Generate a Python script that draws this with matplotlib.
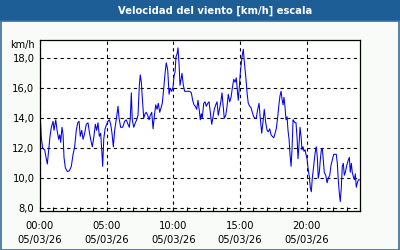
import matplotlib.pyplot as plt
from matplotlib.patches import Rectangle
from matplotlib.ticker import MultipleLocator, FuncFormatter

# hours since 00:00 on 05/03/26 and wind speed in km/h
hours = [0.05, 0.10, 0.20, 0.35, 0.45, 0.55, 0.65, 0.75, 0.85, 0.98,
         1.05, 1.18, 1.28, 1.40, 1.48, 1.55, 1.65, 1.73, 1.80, 1.90,
         2.05, 2.20, 2.35, 2.48, 2.60, 2.72, 2.83, 2.93, 3.02, 3.13,
         3.23, 3.35, 3.47, 3.60, 3.70, 3.80, 3.92, 4.03, 4.15, 4.25,
         4.35, 4.45, 4.55, 4.63, 4.70, 4.78, 4.88, 5.00, 5.10, 5.20,
         5.30, 5.40, 5.50, 5.60, 5.75, 5.85, 5.93, 6.05, 6.20, 6.35,
         6.47, 6.60, 6.70, 6.77, 6.85, 6.92, 7.03, 7.15, 7.25, 7.35,
         7.45, 7.52, 7.60, 7.67, 7.78, 7.88, 7.97, 8.08, 8.18, 8.27,
         8.38, 8.48, 8.57, 8.68, 8.78, 8.87, 8.98, 9.08, 9.17, 9.28,
         9.38, 9.47, 9.58, 9.68, 9.77, 9.88, 9.98, 10.05, 10.13, 10.20,
         10.28, 10.35, 10.43, 10.50, 10.58, 10.65, 10.75, 10.85, 10.97, 11.10,
         11.23, 11.35, 11.45, 11.55, 11.65, 11.75, 11.85, 11.95, 12.02, 12.10,
         12.17, 12.28, 12.38, 12.47, 12.58, 12.68, 12.77, 12.88, 12.98, 13.07,
         13.18, 13.28, 13.37, 13.48, 13.58, 13.65, 13.73, 13.82, 13.93, 14.03,
         14.12, 14.23, 14.33, 14.42, 14.53, 14.63, 14.72, 14.80, 14.87, 14.95,
         15.02, 15.10, 15.17, 15.25, 15.32, 15.43, 15.53, 15.62, 15.73, 15.83,
         15.92, 16.03, 16.13, 16.22, 16.33, 16.43, 16.52, 16.63, 16.73, 16.82,
         16.93, 17.03, 17.12, 17.23, 17.33, 17.42, 17.53, 17.63, 17.72, 17.83,
         17.93, 18.00, 18.08, 18.15, 18.23, 18.30, 18.38, 18.45, 18.53, 18.60,
         18.68, 18.75, 18.83, 18.90, 18.98, 19.05, 19.13, 19.20, 19.28, 19.35,
         19.43, 19.50, 19.58, 19.65, 19.73, 19.80, 19.88, 19.95, 20.03, 20.10,
         20.20, 20.27, 20.35, 20.42, 20.50, 20.57, 20.65, 20.72, 20.80, 20.87,
         20.95, 21.02, 21.10, 21.17, 21.25, 21.32, 21.43, 21.53, 21.62, 21.73,
         21.83, 21.92, 22.03, 22.13, 22.22, 22.30, 22.37, 22.45, 22.52, 22.60,
         22.67, 22.75, 22.82, 22.90, 22.97, 23.05, 23.12, 23.20, 23.27, 23.35,
         23.42, 23.50, 23.57, 23.65, 23.72, 23.80, 23.88, 23.95]
speed = [13.6, 12.7, 12.0, 11.9, 11.4, 10.95, 11.9, 12.8, 13.4, 13.8,
         13.2, 13.9, 13.2, 12.6, 12.9, 12.4, 13.4, 12.9, 11.4, 10.7,
         10.45, 10.5, 10.8, 11.6, 12.1, 13.2, 13.7, 13.8, 12.8, 13.2,
         12.6, 13.0, 13.6, 13.7, 13.1, 12.6, 12.1, 12.7, 13.6, 13.2,
         13.7, 12.8, 13.0, 11.9, 10.8, 12.6, 13.3, 13.6, 13.8, 13.9,
         13.6, 13.0, 12.1, 13.2, 14.1, 14.8, 14.0, 13.4, 13.4, 13.8,
         13.9, 13.6, 13.4, 14.0, 15.7, 13.9, 13.4, 13.7, 13.9, 14.2,
         16.2, 16.9, 16.4, 15.4, 14.0, 14.3, 14.4, 14.2, 13.9, 14.2,
         14.4, 13.3, 14.1, 14.9, 14.6, 15.0, 14.4, 14.7, 15.0, 16.0,
         17.0, 17.7, 17.2, 15.6, 16.0, 15.8, 16.1, 16.8, 17.1, 18.1,
         18.3, 18.7, 17.6, 16.2, 16.6, 17.0, 16.2, 15.8, 15.8, 15.8,
         15.8, 15.7, 15.2, 14.9, 14.8, 14.6, 15.2, 14.5, 13.9, 14.3,
         14.0, 15.0, 15.1, 14.8, 15.0, 15.1, 14.4, 13.6, 14.1, 14.6,
         14.9, 15.1, 14.2, 14.7, 15.2, 15.7, 14.9, 14.0, 14.2, 14.8,
         15.6, 15.1, 15.4, 16.0, 16.6, 16.4, 16.7, 15.9, 15.2, 16.1,
         17.0, 17.7, 18.2, 18.6, 17.8, 16.8, 15.7, 15.0, 14.8, 14.7,
         14.4, 14.1, 14.0, 14.0, 14.6, 15.0, 14.0, 13.0, 13.8, 14.6,
         13.7, 13.2, 13.1, 13.3, 12.9, 12.8, 12.7, 13.0, 13.3, 14.1,
         15.0, 15.5, 15.8, 15.3, 14.9, 15.4, 14.7, 13.9, 14.1, 13.2,
         12.6, 11.6, 10.8, 11.9, 13.9, 13.8, 13.7, 13.7, 12.7, 11.3,
         12.3, 13.4, 12.8, 11.9, 12.1, 11.8, 11.9, 11.6, 11.3, 10.7,
         10.1, 9.4, 9.1, 10.0, 10.6, 11.2, 11.8, 12.1, 11.4, 10.0,
         10.4, 11.2, 11.9, 12.0, 11.2, 10.4, 10.2, 9.7, 10.0, 10.2,
         10.9, 11.2, 11.6, 11.6, 11.6, 11.0, 9.9, 9.0, 8.45, 9.4,
         10.8, 11.0, 10.2, 10.4, 10.7, 11.0, 11.2, 11.4, 10.4, 11.0,
         10.4, 10.1, 9.9, 10.3, 9.4, 9.7, 9.9, 9.9]

x_ticks = [0, 5, 10, 15, 20]
x_labels = ['00:00\n05/03/26', '05:00\n05/03/26', '10:00\n05/03/26',
            '15:00\n05/03/26', '20:00\n05/03/26']
y_ticks = [8, 10, 12, 14, 16, 18]

title_blue = '#1d5e96'

fig = plt.figure(figsize=(4, 2.5), dpi=100, facecolor='#f8fbf8')

# title bar and frame
fig.patches.append(Rectangle((0, 1 - 21 / 250), 1, 21 / 250, transform=fig.transFigure,
                             facecolor=title_blue, edgecolor='none', zorder=0))
fig.patches.append(Rectangle((0.5 / 400, 0.5 / 250), 398.5 / 400, 1 - 21 / 250,
                             transform=fig.transFigure, facecolor='none',
                             edgecolor='#3a6c98', linewidth=1.2, zorder=0))
fig.text(215.5 / 400, 1 - 10.5 / 250, 'Velocidad del viento [km/h] escala',
         color='white', fontsize=7.2, fontweight='bold', ha='center', va='center')

ax = fig.add_axes([40 / 400, 1 - 211 / 250, 320 / 400, 171 / 250])
ax.plot(hours, speed, color='#0000ee', linewidth=0.75)

ax.set_xlim(0, 24)
ax.set_ylim(7.82, 19.22)
ax.set_xticks(x_ticks)
ax.set_xticklabels(x_labels, linespacing=1.5)
ax.xaxis.set_minor_locator(MultipleLocator(1))
ax.set_yticks(y_ticks)
ax.yaxis.set_major_formatter(FuncFormatter(lambda v, p: f'{v:.1f}'.replace('.', ',')))

ax.grid(True, color='black', linestyle=(0, (3, 3)), linewidth=0.8)
ax.tick_params(axis='x', which='both', direction='in', length=3, width=0.8,
               labelsize=7.2, pad=7, colors='black')
ax.tick_params(axis='y', length=0, labelsize=7.2, pad=4)
for s in ax.spines.values():
    s.set_linewidth(0.9)

fig.text(35 / 400, 1 - 45 / 250, 'km/h', fontsize=7, ha='right', va='center')

plt.savefig('out.png', dpi=100, facecolor=fig.get_facecolor())
